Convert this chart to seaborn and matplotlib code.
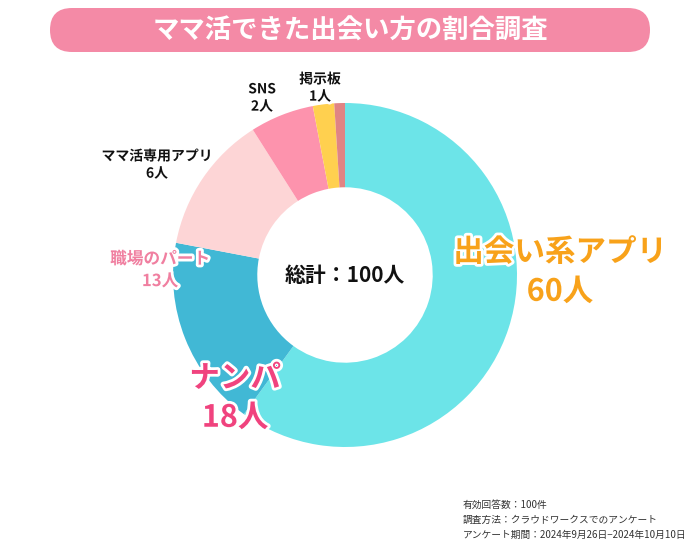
import matplotlib
matplotlib.use("Agg")
import matplotlib.pyplot as plt
import matplotlib.patheffects as pe
import seaborn as sns
from matplotlib.patches import FancyBboxPatch

sns.set_theme(style="white")
plt.rcParams["font.family"] = "Noto Sans CJK JP"

categories = ["出会い系アプリ", "ナンパ", "職場のパート", "ママ活専用アプリ", "SNS", "掲示板"]
values = [60, 18, 13, 6, 2, 1]
colors = ["#6ce4e8", "#41b8d5", "#fdd5d6", "#fd93ad", "#ffd04f", "#e08484"]

fig = plt.figure(figsize=(7, 5.5), dpi=100)
fig.patch.set_facecolor("white")

cx, cy, R = 345, 275, 172
ax = fig.add_axes([(cx - R) / 700, 1 - (cy + R) / 550, 2 * R / 700, 2 * R / 550])
ax.pie(values, colors=colors, startangle=90, counterclock=False, radius=1,
       wedgeprops=dict(width=0.49, edgecolor="none"))
ax.set_xlim(-1, 1); ax.set_ylim(-1, 1)
ax.set_aspect("equal")
ax.text(0, 0, "総計：100人", ha="center", va="center", fontsize=15, fontweight="bold", color="#111")

bax = fig.add_axes([0, 0, 1, 1])
bax.set_xlim(0, 700); bax.set_ylim(550, 0); bax.axis("off")
bax.patch.set_alpha(0)
bax.add_patch(FancyBboxPatch((50, 8), 600, 44, boxstyle="round,pad=0,rounding_size=22",
                             fc="#f48aa6", ec="none"))
bax.text(350, 31, "ママ活できた出会い方の割合調査", color="white", fontsize=19,
         fontweight="bold", ha="center", va="center")

labels = [
    (560, 272, f"{categories[0]}\n{values[0]}人", "#f8a21a", 22),
    (235, 398, f"{categories[1]}\n{values[1]}人", "#f0437e", 22),
    (160, 270, f"{categories[2]}\n{values[2]}人", "#f07fa0", 12),
    (157, 165, f"{categories[3]}\n{values[3]}人", "#111111", 10),
    (262, 98, f"{categories[4]}\n{values[4]}人", "#111111", 10),
    (320, 88, f"{categories[5]}\n{values[5]}人", "#111111", 10),
]
for x, y, t, c, s in labels:
    bax.text(x, y, t, ha="center", va="center", color=c, fontsize=s, fontweight="bold",
             linespacing=1.3, path_effects=[pe.withStroke(linewidth=4, foreground="white")])

bax.text(463, 520, "有効回答数：100件\n調査方法：クラウドワークスでのアンケート\nアンケート期間：2024年9月26日−2024年10月10日",
         ha="left", va="center", fontsize=7, color="#333", linespacing=1.6)

fig.savefig("out.png", dpi=100, facecolor="white")
